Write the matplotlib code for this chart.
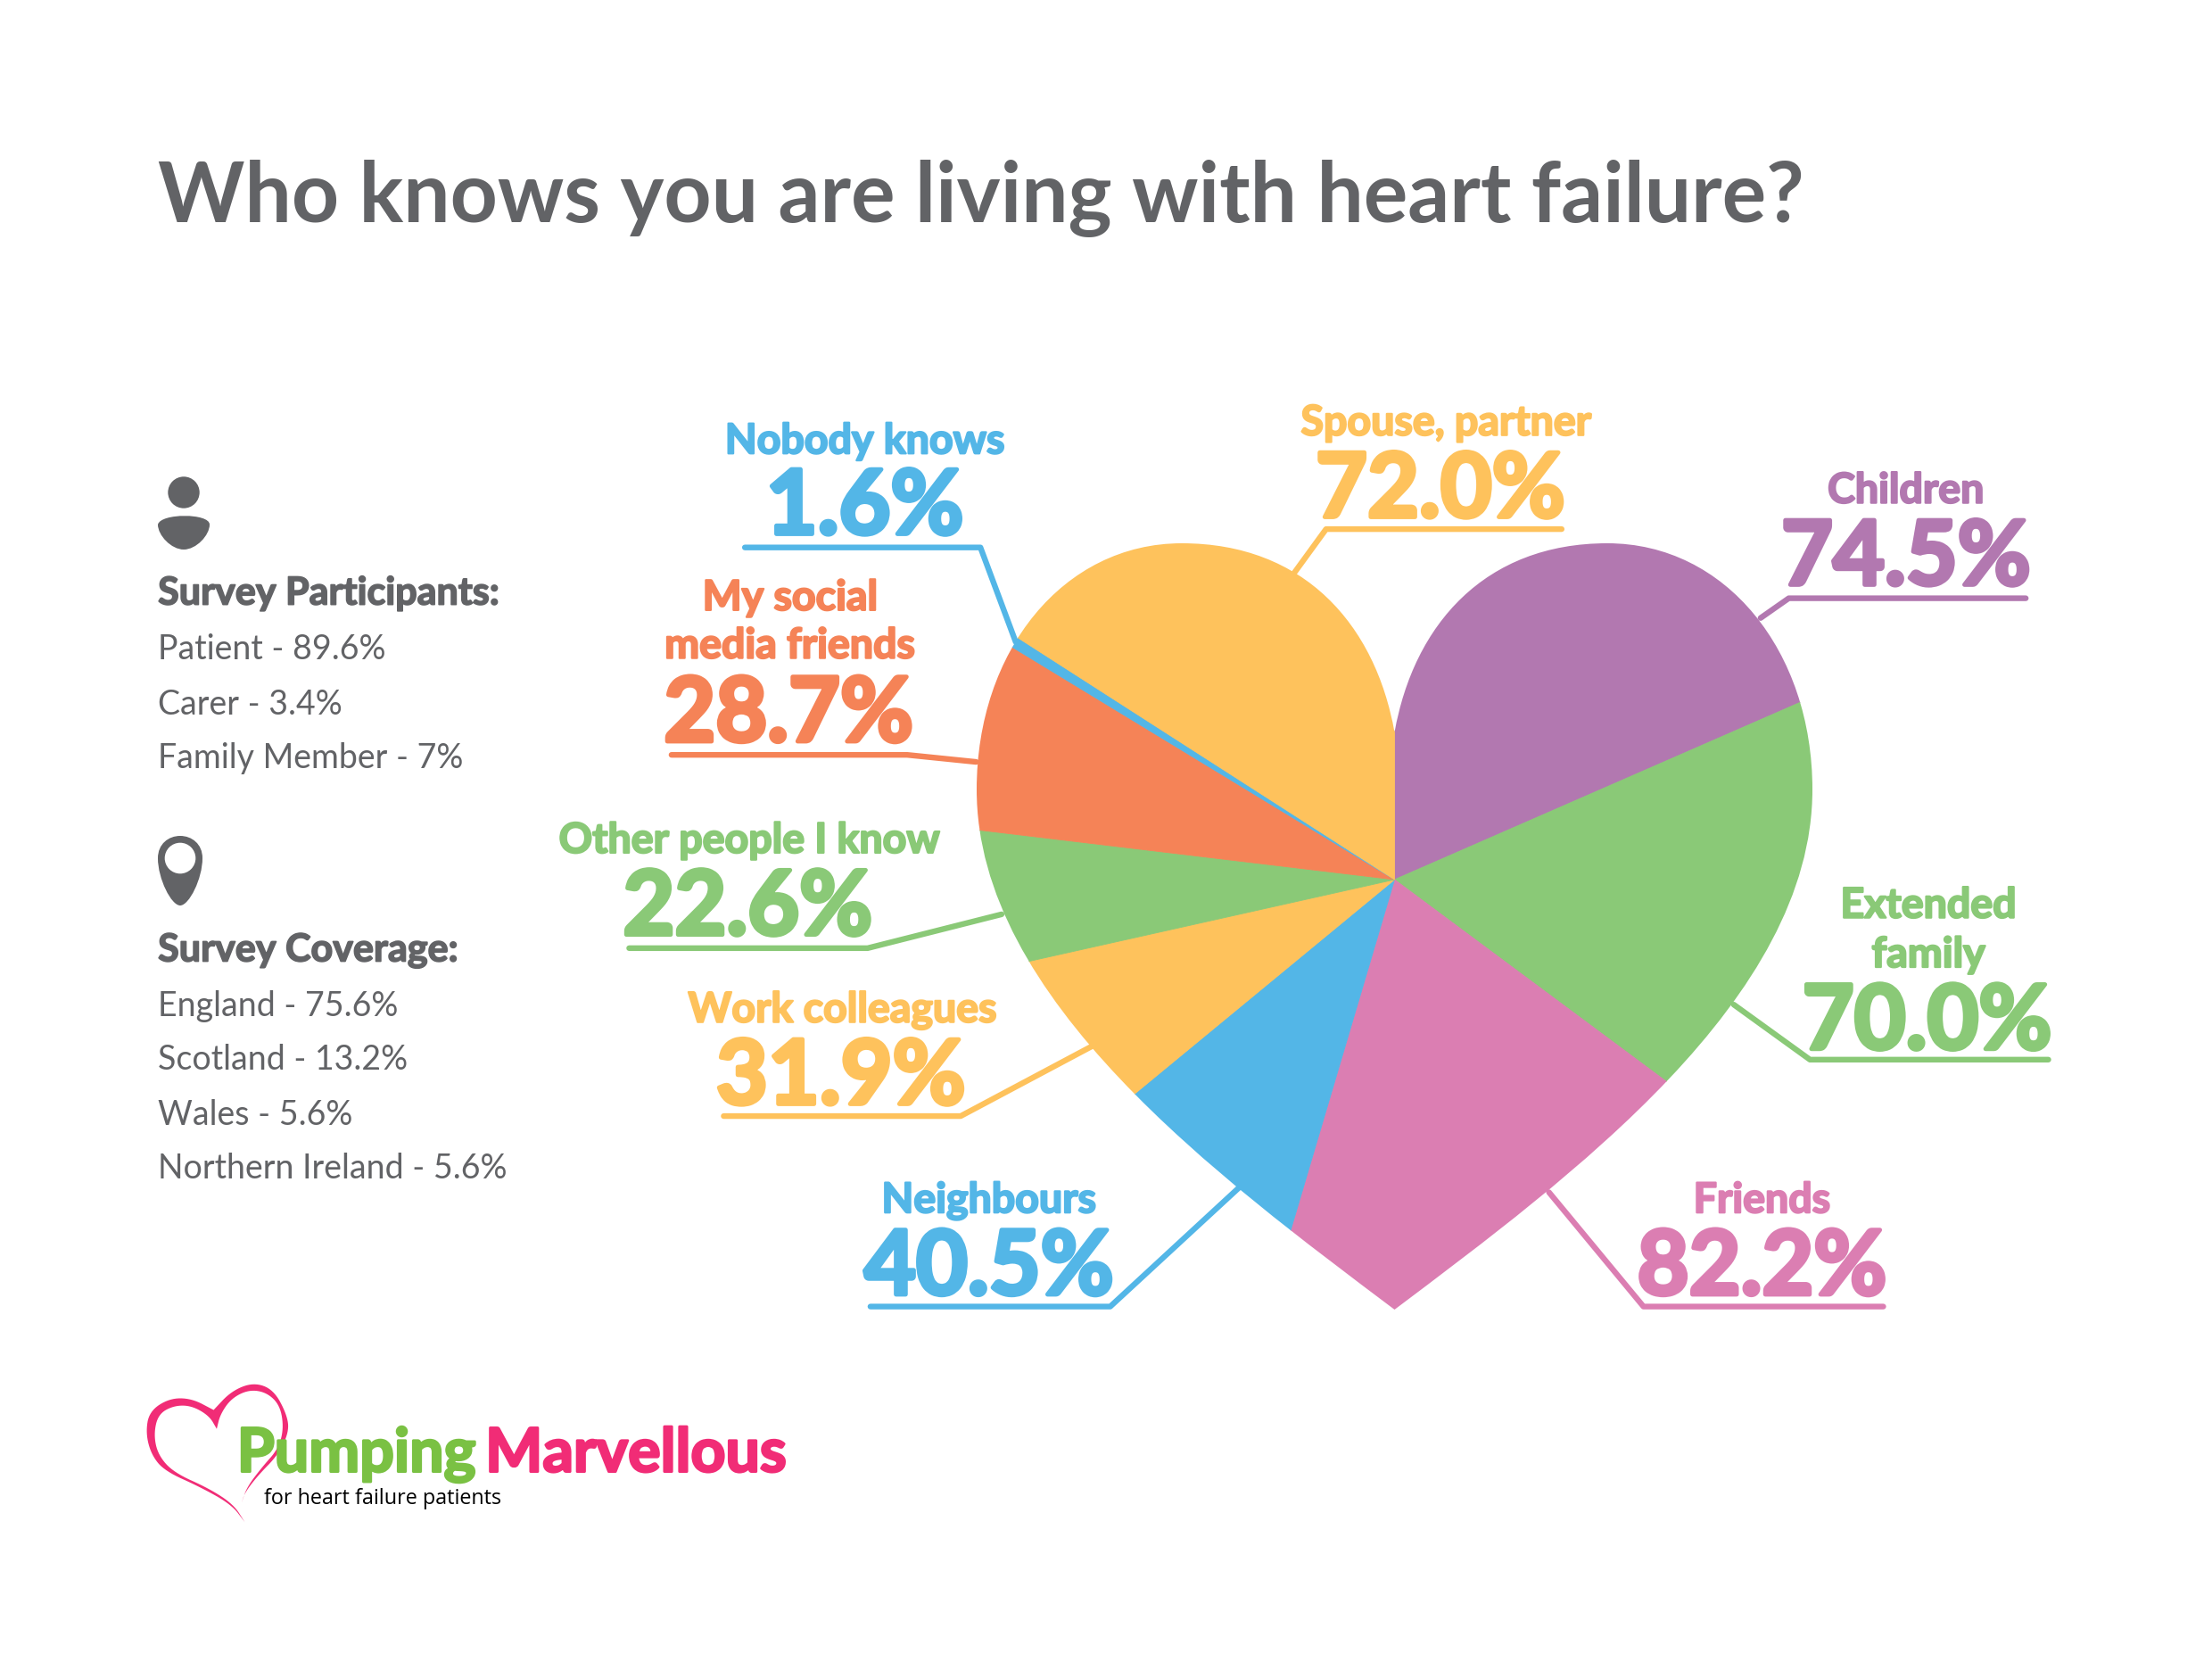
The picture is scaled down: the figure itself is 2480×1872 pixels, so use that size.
import numpy as np
import matplotlib
matplotlib.use("Agg")
import matplotlib.pyplot as plt
import matplotlib.patheffects as pe
from matplotlib.path import Path
from matplotlib.patches import PathPatch, Circle

# ---- data ----
slice_names = ["Children", "Extended\nfamily", "Friends", "Neighbours", "Work colleagues",
               "Other people I know", "My social\nmedia friends", "Nobody knows", "Spouse, partner"]
slice_pct = [74.5, 70.0, 82.2, 40.5, 31.9, 22.6, 28.7, 1.6, 72.0]
# slice sweeps as drawn in the picture (degrees, clockwise from 12 o'clock)
slice_sweep = [66.4, 60.2, 69.9, 34.0, 26.9, 19.4, 24.5, 1.4, 57.3]
slice_colors = ["#B278B0", "#8AC977", "#DB7EB2", "#53B6E7", "#FEC25C",
                "#8AC977", "#F58357", "#53B6E7", "#FEC25C"]
participants = ["Patient - 89.6%", "Carer - 3.4%", "Family Member - 7%"]
coverage = ["England - 75.6%", "Scotland - 13.2%", "Wales - 5.6%", "Northern Ireland - 5.6%"]

GREY = "#626366"
S = 2480 / 1568
FONT = "Lato"

fig = plt.figure(figsize=(24.8, 18.72), dpi=100, facecolor="white")
ax = fig.add_axes([0, 0, 1, 1])

def heavy(col, w):
    return [pe.withStroke(linewidth=w, foreground=col)]

# ---- heart clipped pie ----
CX, CY = 1563.5, 986.0
half = [((1585, 700), (1665, 609), (1802, 609)),
        ((1935, 609), (2032, 730), (2032, 885)),
        ((2032, 1120), (1760, 1320), (1563.5, 1468))]
v = [(CX, 821)]; c = [Path.MOVETO]
for seg in half:
    for p in seg:
        v.append(p); c.append(Path.CURVE4)
# mirrored left half, walked back up
mir = [(2 * CX - x, y) for x, y in v]
for p in mir[-2::-1]:
    v.append(p); c.append(Path.CURVE4)
v.append((CX, 821)); c.append(Path.CLOSEPOLY)
heart = Path(v, c)

wedges, _ = ax.pie(slice_sweep, colors=slice_colors, startangle=-90, counterclock=True,
                   radius=1300, center=(CX, CY), wedgeprops=dict(linewidth=0.6))
for w, col in zip(wedges, slice_colors):
    w.set_edgecolor(col)
    w.set_clip_on(True)
    w.set_clip_path(heart, ax.transData)
ax.set_xlim(0, 2480); ax.set_ylim(1872, 0)
ax.set_aspect("auto"); ax.axis("off")

# ---- labels: (name centre x, first name y, value centre x, value y, leader polyline) in 1568-wide units
layout = [
    (1351, [345], 1351, 391, [(1436, 424), (1268, 424), (1248, 438)]),
    (1367, [639, 674], 1366, 720, [(1452, 751), (1283, 751), (1229, 712)]),
    (1249, [848], 1249, 894, [(1335, 926), (1165, 926), (1098, 845)]),
    (701, [848], 701, 894, [(617, 926), (787, 926), (878, 842)]),
    (597, [713], 596, 759, [(513, 791), (681, 791), (775, 741)]),
    (531, [593], 530, 639, [(446, 672), (615, 672), (710, 648)]),
    (560, [421, 455], 559, 502, [(476, 535), (643, 535), (692, 540)]),
    (613, [310], 613, 355, [(528, 388), (695, 388), (720, 455)]),
    (1025, [297], 1021, 343, [(1107, 375), (940, 375), (916, 408)]),
]
for name, pct, col, (nx, nys, vx, vy, line) in zip(slice_names, slice_pct, slice_colors, layout):
    for part, ny in zip(name.split("\n"), nys):
        ax.text(nx * S, ny * S, part, color=col, ha="center", va="center_baseline",
                fontsize=33.5, fontweight="bold", family=FONT, path_effects=heavy(col, 1.6))
    ax.text(vx * S, vy * S, f"{pct:.1f}%", color=col, ha="center", va="center_baseline",
            fontsize=72, fontweight="bold", family=FONT, path_effects=heavy(col, 3.5))
    xs, ys = zip(*line)
    ax.plot(np.array(xs) * S, np.array(ys) * S, color=col, lw=4.6,
            solid_joinstyle="round", solid_capstyle="round", zorder=3)

# ---- title and side text ----
ax.text(112 * S, 135 * S, "Who knows you are living with heart failure?", color=GREY,
        fontsize=66.8, fontweight="bold", family=FONT, va="center_baseline")

for t, y in [("Survey Participants:", 418), ("Survey Coverage:", 671)]:
    ax.text(112 * S, y * S, t, color=GREY, fontsize=31, fontweight="bold",
            family=FONT, va="center_baseline", path_effects=heavy(GREY, 1.2))
for t, y in zip(participants, [458, 497, 535]):
    ax.text(112 * S, y * S, t, color=GREY, fontsize=27, family=FONT, va="center_baseline")
for t, y in zip(coverage, [711, 749, 788, 826]):
    ax.text(112 * S, y * S, t, color=GREY, fontsize=27, family=FONT, va="center_baseline")

# person icon
ax.add_patch(Circle((206, 552), 17.7, color=GREY, lw=0))
body = Path([(177, 588), (180, 575), (235, 575), (235, 588), (235, 600), (220, 616), (206, 616),
             (192, 616), (177, 600), (177, 588), (177, 588)],
            [Path.MOVETO, Path.CURVE4, Path.CURVE4, Path.CURVE4, Path.CURVE4, Path.CURVE4, Path.CURVE4,
             Path.CURVE4, Path.CURVE4, Path.CURVE4, Path.CLOSEPOLY])
ax.add_patch(PathPatch(body, color=GREY, lw=0))
# pin icon
pin = Path([(177, 962), (177, 946), (189, 937), (202, 937), (215, 937), (227, 946), (227, 962),
            (227, 985), (212, 1015), (202, 1015), (192, 1015), (177, 985), (177, 962), (177, 962)],
           [Path.MOVETO] + [Path.CURVE4] * 12 + [Path.CLOSEPOLY])
ax.add_patch(PathPatch(pin, color=GREY, lw=0))
ax.add_patch(Circle((202, 962), 17.3, color="white", lw=0))

# ---- logo ----
def smooth(pts, n=3):
    p = np.array(pts, float)
    for _ in range(n):
        q = [p[0]]
        for a, b in zip(p[:-1], p[1:]):
            q += [0.75 * a + 0.25 * b, 0.25 * a + 0.75 * b]
        q.append(p[-1]); p = np.array(q)
    return p

outer = [(270, 540), (240, 480), (170, 420), (90, 365), (60, 310), (47, 235), (55, 160), (100, 115),
         (150, 115), (200, 155)]
outer2 = [(200, 155), (240, 90), (290, 60), (335, 85), (365, 170), (370, 230), (345, 310), (300, 380),
          (270, 440), (263, 475)]
inner = [(263, 475), (275, 420), (310, 350), (345, 290), (358, 220), (350, 140), (320, 95), (280, 85),
         (240, 115), (215, 170), (207, 220)]
inner2 = [(207, 220), (190, 175), (150, 140), (110, 140), (75, 170), (65, 240), (75, 310), (110, 370),
          (190, 425), (245, 480), (270, 540)]
ring = np.vstack([smooth(s) for s in (outer, outer2, inner, inner2)])
ring = np.column_stack([140 + ring[:, 0] / 2.01, 1530 + ring[:, 1] * 0.326])
ax.fill(ring[:, 0], ring[:, 1], color="#F12C76", lw=0)

ax.text(168 * S, 1043 * S, "Pumping", color="#7AC143", fontsize=49, fontweight="bold", family=FONT,
        path_effects=heavy("#7AC143", 2))
ax.text(344 * S, 1043 * S, "Marvellous", color="#F12C76", fontsize=49, fontweight="bold", family=FONT,
        path_effects=heavy("#F12C76", 2))
ax.text(187 * S, 1066 * S, "for heart failure patients", color="black", fontsize=16.8, family="Open Sans")

fig.savefig("out.png", dpi=100, facecolor="white")
